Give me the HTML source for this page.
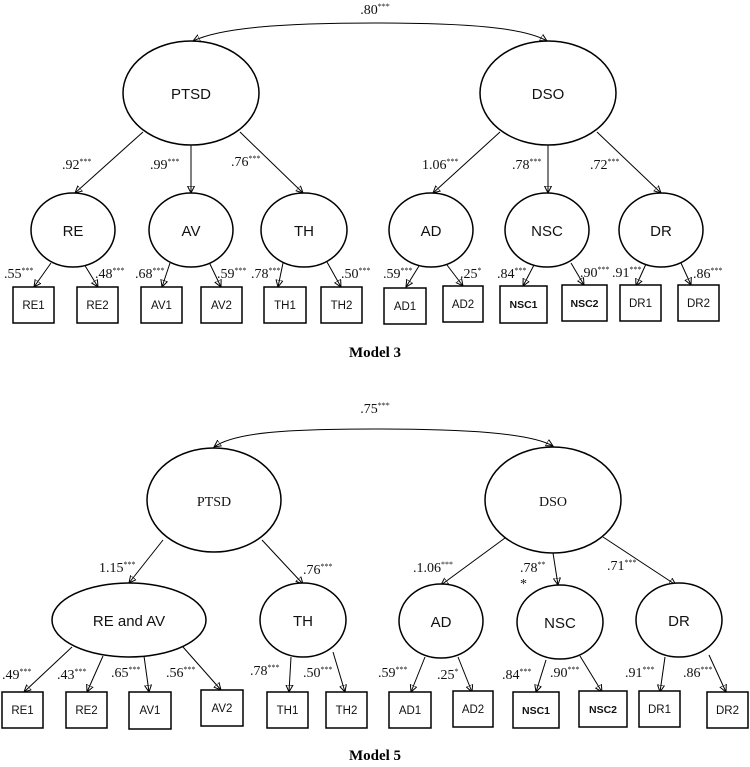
<!DOCTYPE html>
<html><head><meta charset="utf-8"><style>
html,body{margin:0;padding:0;background:#fff}
svg{display:block}
.s{font-family:"Liberation Sans",sans-serif;fill:#111}
.r{font-family:"Liberation Serif",serif;fill:#111;font-size:14px}
.b{font-family:"Liberation Sans",sans-serif;font-size:11.5px;fill:#111}
.bb{font-family:"Liberation Sans",sans-serif;font-size:10.5px;font-weight:bold;fill:#111}
ellipse,rect{fill:#fff;stroke:#000;stroke-width:1.5}
line,path{stroke:#000;stroke-width:1;fill:none}
</style></head><body>
<svg width="750" height="767" viewBox="0 0 750 767" xmlns="http://www.w3.org/2000/svg">
<defs><marker id="a" markerWidth="8" markerHeight="8" refX="7" refY="4" orient="auto" markerUnits="userSpaceOnUse"><path d="M0,0.5 L7,4 L0,7.5 Z" fill="#000" stroke="none"/></marker></defs>

<!-- MODEL 3 -->
<path d="M375,23 C280,23 220,28 193,41" marker-end="url(#a)"/>
<path d="M375,23 C470,23 525,28 547,41" marker-end="url(#a)"/>
<text class="r" x="375" y="14" text-anchor="middle">.80<tspan font-size="8" dy="-5">***</tspan></text>

<g marker-end="url(#a)">
<line x1="143" y1="132" x2="75" y2="193"/><line x1="191" y1="145" x2="191" y2="193"/><line x1="240" y1="132" x2="303" y2="193"/>
<line x1="500" y1="132" x2="433" y2="193"/><line x1="548" y1="145" x2="548" y2="193"/><line x1="597" y1="132" x2="661" y2="193"/>
<line x1="51" y1="263" x2="34" y2="287"/><line x1="84" y1="264" x2="98" y2="287"/>
<line x1="170" y1="263" x2="162" y2="287"/><line x1="209" y1="262" x2="221" y2="287"/>
<line x1="283" y1="263" x2="278" y2="287"/><line x1="327" y1="262" x2="341" y2="287"/>
<line x1="419" y1="266" x2="406" y2="287"/><line x1="447" y1="265" x2="463" y2="286"/>
<line x1="534" y1="265" x2="523" y2="286"/><line x1="571" y1="263" x2="584" y2="285"/>
<line x1="646" y1="264" x2="636" y2="286"/><line x1="681" y1="263" x2="691" y2="285"/>
</g>

<ellipse cx="191" cy="93" rx="68" ry="52"/><text class="s" x="191" y="99" font-size="15" text-anchor="middle">PTSD</text>
<ellipse cx="548" cy="93" rx="68" ry="52"/><text class="s" x="548" y="99" font-size="15" text-anchor="middle">DSO</text>
<ellipse cx="73" cy="230" rx="42" ry="37"/><text class="s" x="73" y="236" font-size="15" text-anchor="middle">RE</text>
<ellipse cx="191" cy="230" rx="42" ry="37"/><text class="s" x="191" y="236" font-size="15" text-anchor="middle">AV</text>
<ellipse cx="304" cy="230" rx="43" ry="37"/><text class="s" x="304" y="236" font-size="15" text-anchor="middle">TH</text>
<ellipse cx="431" cy="230" rx="42" ry="37"/><text class="s" x="431" y="236" font-size="15" text-anchor="middle">AD</text>
<ellipse cx="547" cy="230" rx="42" ry="37"/><text class="s" x="547" y="236" font-size="15" text-anchor="middle">NSC</text>
<ellipse cx="661" cy="230" rx="42" ry="37"/><text class="s" x="661" y="236" font-size="15" text-anchor="middle">DR</text>

<text class="r" x="62" y="169">.92<tspan font-size="8" dy="-5">***</tspan></text>
<text class="r" x="150" y="169">.99<tspan font-size="8" dy="-5">***</tspan></text>
<text class="r" x="231" y="166">.76<tspan font-size="8" dy="-5">***</tspan></text>
<text class="r" x="422" y="169">1.06<tspan font-size="8" dy="-5">***</tspan></text>
<text class="r" x="512" y="169">.78<tspan font-size="8" dy="-5">***</tspan></text>
<text class="r" x="590" y="169">.72<tspan font-size="8" dy="-5">***</tspan></text>

<g>
<text class="r" x="4" y="278">.55<tspan font-size="8" dy="-5">***</tspan></text>
<text class="r" x="95" y="278">.48<tspan font-size="8" dy="-5">***</tspan></text>
<text class="r" x="135" y="278">.68<tspan font-size="8" dy="-5">***</tspan></text>
<text class="r" x="217" y="278">.59<tspan font-size="8" dy="-5">***</tspan></text>
<text class="r" x="251" y="278">.78<tspan font-size="8" dy="-5">***</tspan></text>
<text class="r" x="341" y="278">.50<tspan font-size="8" dy="-5">***</tspan></text>
<text class="r" x="383" y="278">.59<tspan font-size="8" dy="-5">***</tspan></text>
<text class="r" x="460" y="278">.25<tspan font-size="8" dy="-5">*</tspan></text>
<text class="r" x="497" y="278">.84<tspan font-size="8" dy="-5">***</tspan></text>
<text class="r" x="580" y="277">.90<tspan font-size="8" dy="-5">***</tspan></text>
<text class="r" x="612" y="277">.91<tspan font-size="8" dy="-5">***</tspan></text>
<text class="r" x="693" y="278">.86<tspan font-size="8" dy="-5">***</tspan></text>
</g>

<rect x="13" y="287" width="41" height="36"/><text class="b" x="33.5" y="309" text-anchor="middle">RE1</text>
<rect x="77" y="287" width="41" height="36"/><text class="b" x="97.5" y="309" text-anchor="middle">RE2</text>
<rect x="141" y="287" width="41" height="36"/><text class="b" x="161.5" y="309" text-anchor="middle">AV1</text>
<rect x="201" y="287" width="41" height="36"/><text class="b" x="221.5" y="309" text-anchor="middle">AV2</text>
<rect x="264" y="287" width="42" height="36"/><text class="b" x="285" y="309" text-anchor="middle">TH1</text>
<rect x="321" y="287" width="41" height="36"/><text class="b" x="341.5" y="309" text-anchor="middle">TH2</text>
<rect x="384" y="288" width="42" height="36"/><text class="b" x="405" y="310" text-anchor="middle">AD1</text>
<rect x="443" y="286" width="40" height="36"/><text class="b" x="463" y="308" text-anchor="middle">AD2</text>
<rect x="500" y="286" width="47" height="37"/><text class="bb" x="523.5" y="308" text-anchor="middle">NSC1</text>
<rect x="562" y="285" width="45" height="36"/><text class="bb" x="584.5" y="307" text-anchor="middle">NSC2</text>
<rect x="620" y="285" width="41" height="36"/><text class="b" x="640.5" y="307" text-anchor="middle">DR1</text>
<rect x="678" y="285" width="41" height="36"/><text class="b" x="698.5" y="307" text-anchor="middle">DR2</text>

<text x="375" y="357" text-anchor="middle" font-family="Liberation Serif,serif" font-weight="bold" font-size="15">Model 3</text>

<!-- MODEL 5 -->
<path d="M375,429 C290,429 235,432 214,447" marker-end="url(#a)"/>
<path d="M375,429 C465,429 530,433 553,446" marker-end="url(#a)"/>
<text class="r" x="375" y="413" text-anchor="middle">.75<tspan font-size="8" dy="-5">***</tspan></text>

<g marker-end="url(#a)">
<line x1="163" y1="540" x2="129" y2="583"/><line x1="262" y1="540" x2="303" y2="584"/>
<line x1="505" y1="538" x2="441" y2="585"/><line x1="553" y1="553" x2="558" y2="585"/><line x1="603" y1="537" x2="676" y2="585"/>
<line x1="72" y1="647" x2="24" y2="692"/><line x1="103" y1="656" x2="87" y2="692"/>
<line x1="144" y1="656" x2="149" y2="692"/><line x1="183" y1="647" x2="221" y2="690"/>
<line x1="291" y1="657" x2="289" y2="692"/><line x1="333" y1="652" x2="345" y2="692"/>
<line x1="425" y1="657" x2="411" y2="692"/><line x1="458" y1="657" x2="472" y2="692"/>
<line x1="546" y1="660" x2="536" y2="692"/><line x1="580" y1="656" x2="602" y2="692"/>
<line x1="665" y1="657" x2="660" y2="692"/><line x1="709" y1="655" x2="726" y2="692"/>
</g>

<ellipse cx="214" cy="500" rx="67" ry="52"/><text class="r" x="214" y="506" font-size="17" text-anchor="middle">PTSD</text>
<ellipse cx="553" cy="500" rx="68" ry="53"/><text class="r" x="553" y="506" font-size="17" text-anchor="middle">DSO</text>
<ellipse cx="129" cy="620" rx="77" ry="37"/><text class="s" x="129" y="626" font-size="15" text-anchor="middle">RE and AV</text>
<ellipse cx="303" cy="620" rx="43" ry="37"/><text class="s" x="303" y="626" font-size="15" text-anchor="middle">TH</text>
<ellipse cx="441" cy="621" rx="42" ry="37"/><text class="s" x="441" y="627" font-size="15" text-anchor="middle">AD</text>
<ellipse cx="560" cy="622" rx="43" ry="37"/><text class="s" x="560" y="628" font-size="15" text-anchor="middle">NSC</text>
<ellipse cx="679" cy="620" rx="43" ry="37"/><text class="s" x="679" y="626" font-size="15" text-anchor="middle">DR</text>

<text class="r" x="99" y="572">1.15<tspan font-size="8" dy="-5">***</tspan></text>
<text class="r" x="303" y="574">.76<tspan font-size="8" dy="-5">***</tspan></text>
<text class="r" x="413" y="572">.1.06<tspan font-size="8" dy="-5">***</tspan></text>
<text class="r" x="520" y="572">.78<tspan font-size="8" dy="-5">**</tspan></text>
<text class="r" x="520" y="588" font-size="8">*</text>
<text class="r" x="607" y="570">.71<tspan font-size="8" dy="-5">***</tspan></text>

<text class="r" x="2" y="679">.49<tspan font-size="8" dy="-5">***</tspan></text>
<text class="r" x="57" y="679">.43<tspan font-size="8" dy="-5">***</tspan></text>
<text class="r" x="111" y="677">.65<tspan font-size="8" dy="-5">***</tspan></text>
<text class="r" x="166" y="677">.56<tspan font-size="8" dy="-5">***</tspan></text>
<text class="r" x="250" y="675">.78<tspan font-size="8" dy="-5">***</tspan></text>
<text class="r" x="303" y="677">.50<tspan font-size="8" dy="-5">***</tspan></text>
<text class="r" x="378" y="677">.59<tspan font-size="8" dy="-5">***</tspan></text>
<text class="r" x="437" y="679">.25<tspan font-size="8" dy="-5">*</tspan></text>
<text class="r" x="502" y="679">.84<tspan font-size="8" dy="-5">***</tspan></text>
<text class="r" x="550" y="677">.90<tspan font-size="8" dy="-5">***</tspan></text>
<text class="r" x="625" y="677">.91<tspan font-size="8" dy="-5">***</tspan></text>
<text class="r" x="683" y="677">.86<tspan font-size="8" dy="-5">***</tspan></text>

<rect x="2" y="692" width="41" height="36"/><text class="b" x="22.5" y="714" text-anchor="middle">RE1</text>
<rect x="66" y="692" width="41" height="36"/><text class="b" x="86.5" y="714" text-anchor="middle">RE2</text>
<rect x="129" y="692" width="42" height="37"/><text class="b" x="150" y="714" text-anchor="middle">AV1</text>
<rect x="201" y="690" width="42" height="36"/><text class="b" x="222" y="712" text-anchor="middle">AV2</text>
<rect x="267" y="692" width="41" height="36"/><text class="b" x="287.5" y="714" text-anchor="middle">TH1</text>
<rect x="326" y="692" width="41" height="36"/><text class="b" x="346.5" y="714" text-anchor="middle">TH2</text>
<rect x="389" y="692" width="42" height="36"/><text class="b" x="410" y="714" text-anchor="middle">AD1</text>
<rect x="453" y="691" width="40" height="36"/><text class="b" x="473" y="713" text-anchor="middle">AD2</text>
<rect x="513" y="692" width="46" height="36"/><text class="bb" x="536" y="714" text-anchor="middle">NSC1</text>
<rect x="579" y="691" width="48" height="36"/><text class="bb" x="603" y="713" text-anchor="middle">NSC2</text>
<rect x="639" y="691" width="41" height="36"/><text class="b" x="659.5" y="713" text-anchor="middle">DR1</text>
<rect x="707" y="692" width="41" height="36"/><text class="b" x="727.5" y="714" text-anchor="middle">DR2</text>

<text x="375" y="760" text-anchor="middle" font-family="Liberation Serif,serif" font-weight="bold" font-size="15">Model 5</text>
</svg>
</body></html>
